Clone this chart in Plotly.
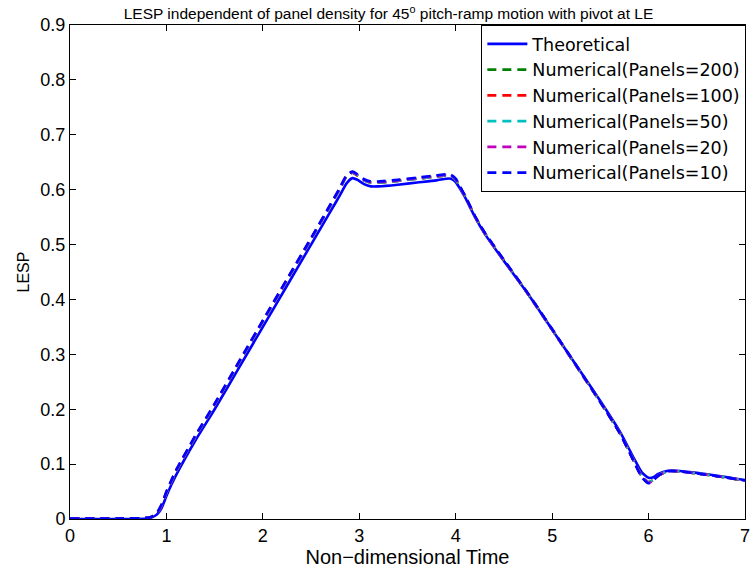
import plotly.graph_objects as go

# ---- data ----
time = [0, 0.5, 0.8, 0.85, 0.9, 0.95, 1.0, 1.05, 1.1, 1.3, 1.5, 1.75, 2.0, 2.25, 2.5, 2.7, 2.8,
        2.87, 2.93, 2.98, 3.05, 3.12, 3.2, 3.4, 3.6, 3.8, 3.9, 3.95, 4.0, 4.05, 4.1, 4.2, 4.3,
        4.5, 4.75, 5.0, 5.25, 5.5, 5.7, 5.85, 5.93, 6.0, 6.05, 6.1, 6.2, 6.3, 6.5, 6.75, 7.0]

theoretical = [0, 0, 0.001, 0.003, 0.008, 0.02, 0.042, 0.062, 0.08, 0.143, 0.2, 0.275, 0.35, 0.425,
               0.5, 0.56, 0.59, 0.612, 0.621, 0.618, 0.61, 0.606, 0.606, 0.609, 0.613, 0.617, 0.62,
               0.62, 0.614, 0.6, 0.585, 0.55, 0.52, 0.47, 0.41, 0.345, 0.28, 0.215, 0.16, 0.11,
               0.085, 0.075, 0.076, 0.082, 0.088, 0.088, 0.084, 0.078, 0.071]

panels200 = [0.001, 0.001, 0.002, 0.004, 0.01, 0.025, 0.048, 0.068, 0.087, 0.15, 0.208, 0.284, 0.36,
             0.435, 0.51, 0.571, 0.602, 0.625, 0.631, 0.626, 0.617, 0.613, 0.613, 0.616, 0.62, 0.624,
             0.626, 0.625, 0.618, 0.603, 0.587, 0.551, 0.521, 0.471, 0.41, 0.345, 0.279, 0.213,
             0.157, 0.105, 0.078, 0.067, 0.071, 0.079, 0.087, 0.087, 0.083, 0.077, 0.07]

panels100 = [0.001, 0.001, 0.002, 0.004, 0.01, 0.025, 0.048, 0.068, 0.087, 0.15, 0.208, 0.284, 0.36,
             0.435, 0.51, 0.571, 0.602, 0.625, 0.631, 0.626, 0.617, 0.613, 0.613, 0.616, 0.62, 0.624,
             0.626, 0.625, 0.618, 0.603, 0.587, 0.551, 0.521, 0.471, 0.41, 0.345, 0.279, 0.213,
             0.157, 0.105, 0.078, 0.067, 0.071, 0.079, 0.087, 0.087, 0.083, 0.077, 0.07]

panels50 = [0.001, 0.001, 0.002, 0.004, 0.01, 0.025, 0.048, 0.068, 0.087, 0.15, 0.208, 0.284, 0.36,
            0.435, 0.51, 0.571, 0.602, 0.625, 0.631, 0.627, 0.617, 0.613, 0.613, 0.616, 0.62, 0.624,
            0.626, 0.625, 0.618, 0.603, 0.587, 0.551, 0.521, 0.471, 0.41, 0.345, 0.279, 0.213,
            0.157, 0.105, 0.078, 0.067, 0.071, 0.079, 0.087, 0.087, 0.083, 0.077, 0.07]

panels20 = [0.001, 0.001, 0.002, 0.004, 0.01, 0.025, 0.049, 0.069, 0.088, 0.151, 0.209, 0.285, 0.361,
            0.436, 0.511, 0.572, 0.603, 0.626, 0.632, 0.627, 0.618, 0.614, 0.614, 0.617, 0.621, 0.625,
            0.627, 0.626, 0.619, 0.603, 0.587, 0.551, 0.521, 0.471, 0.41, 0.345, 0.279, 0.213,
            0.157, 0.104, 0.077, 0.066, 0.07, 0.079, 0.087, 0.087, 0.083, 0.077, 0.07]

panels10 = [0.001, 0.001, 0.002, 0.004, 0.011, 0.027, 0.05, 0.07, 0.089, 0.152, 0.21, 0.286, 0.362,
            0.437, 0.512, 0.573, 0.604, 0.627, 0.633, 0.628, 0.619, 0.615, 0.615, 0.618, 0.622, 0.626,
            0.628, 0.627, 0.62, 0.604, 0.588, 0.552, 0.522, 0.472, 0.411, 0.346, 0.28, 0.213,
            0.157, 0.104, 0.076, 0.065, 0.07, 0.079, 0.087, 0.087, 0.083, 0.077, 0.07]

series = [
    ("Theoretical", theoretical, "#0000FF", "solid"),
    ("Numerical(Panels=200)", panels200, "#008000", "9px,6px"),
    ("Numerical(Panels=100)", panels100, "#FF0000", "9px,6px"),
    ("Numerical(Panels=50)", panels50, "#00BFBF", "9px,6px"),
    ("Numerical(Panels=20)", panels20, "#BF00BF", "9px,6px"),
    ("Numerical(Panels=10)", panels10, "#0000FF", "9px,6px"),
]

x_ticks = [0, 1, 2, 3, 4, 5, 6, 7]
y_ticks = [0, 0.1, 0.2, 0.3, 0.4, 0.5, 0.6, 0.7, 0.8, 0.9]
y_tick_text = ["0", "0.1", "0.2", "0.3", "0.4", "0.5", "0.6", "0.7", "0.8", "0.9"]

FONT = "Liberation Sans, Arial, sans-serif"
LEGEND_FONT = "DejaVu Sans, Liberation Sans, sans-serif"

fig = go.Figure()
for i, (name, vals, color, dash) in enumerate(series):
    fig.add_trace(go.Scatter(
        x=time, y=vals, mode="lines", name=name,
        line=dict(color=color, width=2.6, dash=dash, shape="spline", smoothing=0.6),
        legendgroup=f"g{i}",
    ))

axis_common = dict(
    showline=True, linecolor="black", linewidth=1, mirror="ticks",
    ticks="inside", ticklen=6, tickcolor="black", tickwidth=1,
    showgrid=False, zeroline=False, ticklabeloverflow="allow", automargin=False,
    tickfont=dict(family=FONT, size=18, color="black"),
)

fig.update_layout(
    width=750, height=571,
    margin=dict(l=70, r=5, t=25, b=52, autoexpand=False),
    paper_bgcolor="white", plot_bgcolor="white",
    font=dict(family=FONT, color="black"),
    title=dict(
        text="LESP independent of panel density for 45<sup>o</sup> pitch-ramp motion with pivot at LE",
        font=dict(family=FONT, size=15.5, color="black"),
        x=0.518, xanchor="center", y=0.976, yanchor="middle", yref="container",
    ),
    xaxis=dict(range=[0, 7], tickvals=x_ticks,
               title=dict(text="Non\u2212dimensional Time", font=dict(family=FONT, size=20), standoff=2),
               **axis_common),
    yaxis=dict(range=[0, 0.9], tickvals=y_ticks, ticktext=y_tick_text,
               title=dict(text="LESP", font=dict(family=FONT, size=16), standoff=6),
               **axis_common),
    legend=dict(
        x=1.002, xanchor="right", y=1, yanchor="top",
        bgcolor="white", bordercolor="black", borderwidth=1,
        font=dict(family=LEGEND_FONT, size=17.5, color="black"),
        tracegroupgap=0, traceorder="normal", itemwidth=40,
    ),
    showlegend=True,
)

fig.write_html("out.html")
